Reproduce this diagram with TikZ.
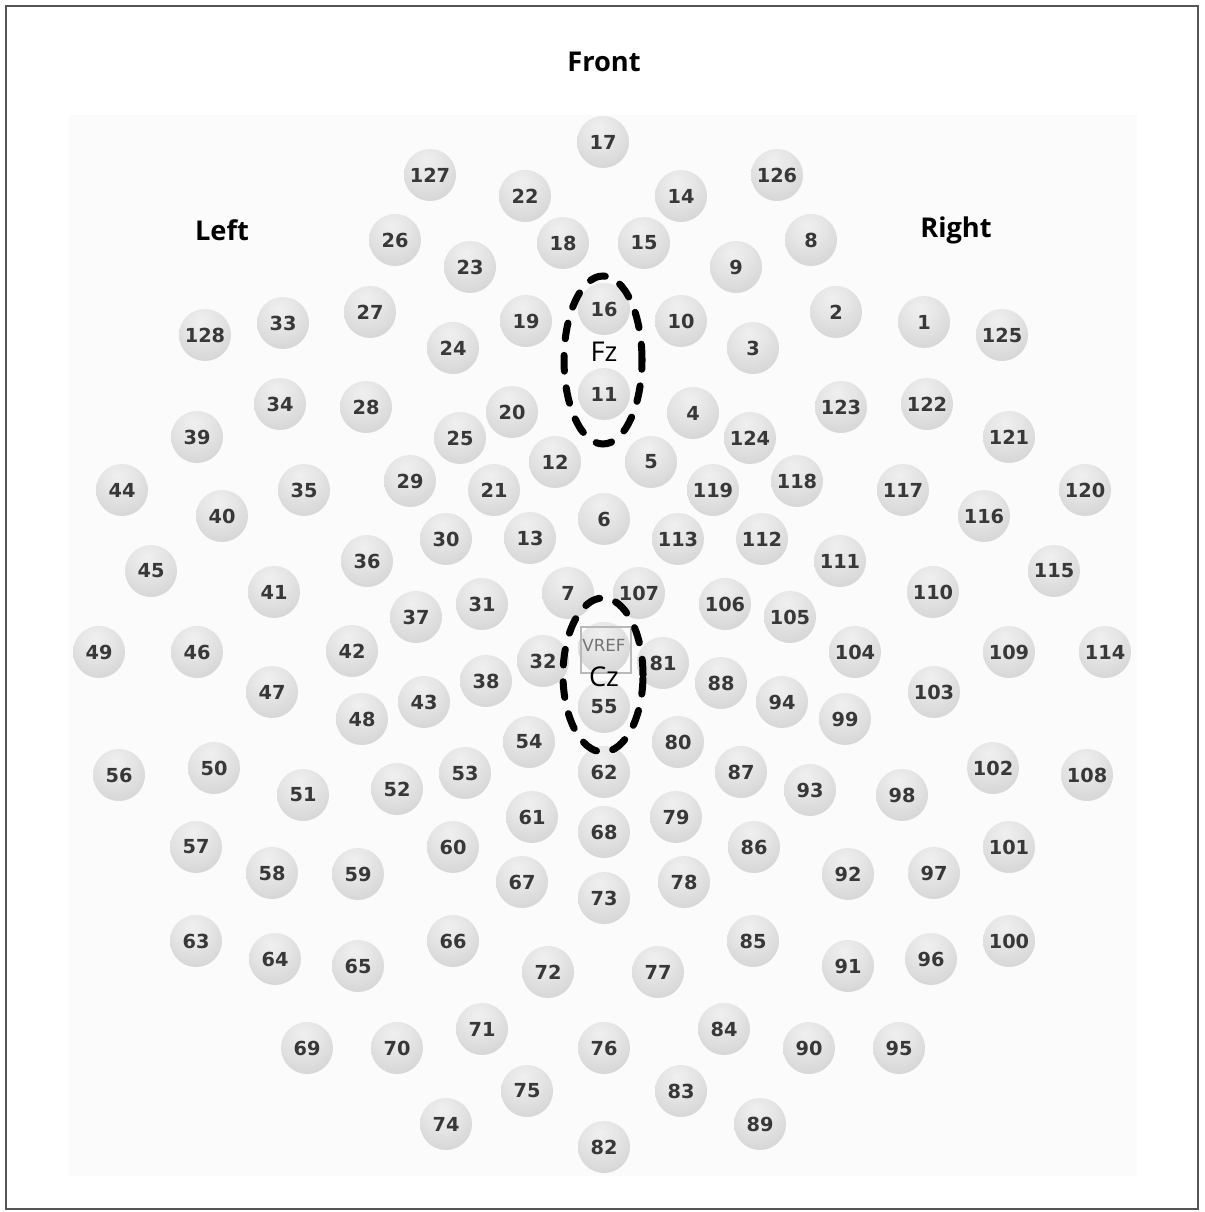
\documentclass[tikz,border=0pt]{standalone}
\usepackage{fontspec}
\setmainfont{Open Sans}
\newfontfamily\numfont{DejaVu Sans}

\definecolor{numgray}{HTML}{383838}
\definecolor{framegray}{HTML}{555555}

% 電極の球の陰影
\pgfdeclareradialshading{electrode}{\pgfpoint{-4bp}{14bp}}{%
  color(0bp)=(gray!12); color(16bp)=(gray!20); color(36bp)=(gray!33);
  color(58bp)=(gray!52); color(100bp)=(gray!58)}

\begin{document}
\begin{tikzpicture}[x=0.02cm, y=-0.02cm,
  elec/.style={circle, minimum size=1.04cm, inner sep=0pt, shading=electrode,
    text=numgray, font=\numfont\bfseries\fontsize{11}{11}\selectfont},
  headlbl/.style={font=\bfseries\fontsize{15.5}{16}\selectfont},
  sitelbl/.style={font=\fontsize{15.5}{16}\selectfont},
  ring/.style={line width=4pt, line cap=round, dash pattern=on 9pt off 9.5pt}]
  \useasboundingbox (0,0) rectangle (1204,1212);

  % 外枠と背景
  \draw[framegray, line width=1.1pt] (6,6) rectangle (1198,1209);
  \fill[gray!3] (69,115) rectangle (1137,1176);

  % 見出し
  \node[headlbl] (front) at (604,62) {Front};
  \node[headlbl] (left) at (222,230) {Left};
  \node[headlbl] (right) at (956,230) {Right};

  % 各電極 (番号/x/y)
  \foreach \n/\x/\y in {
    17/603/142, 127/430/175, 22/525/196, 14/681/196, 126/777/175,
    26/395/240, 18/563/243, 15/644/243, 8/811/240, 23/470/267, 9/736/267,
    16/604/309, 19/526/321, 10/681/321, 27/370/312, 2/836/312,
    33/283/323, 1/924/322, 128/205/335, 125/1002/335, 24/453/348, 3/753/348,
    11/604/394, 34/280/404, 28/366/407, 20/512/412, 4/693/413, 123/841/407,
    122/927/404, 39/197/437, 25/460/438, 124/750/438, 121/1009/437,
    12/555/462, 5/651/462, 44/122/490, 35/304/490, 29/410/481, 21/494/490,
    119/713/490, 118/797/481, 117/903/490, 120/1085/490, 40/222/516,
    116/984/516, 6/604/519, 30/446/539, 13/530/538, 113/678/539,
    112/762/539, 36/367/561, 111/840/561, 45/151/571, 115/1054/571,
    41/274/592, 110/933/592, 7/568/593, 107/639/593, 31/482/604,
    106/725/604, 37/416/617, 105/790/617, 49/99/652, 46/197/652,
    42/352/651, 32/543/661, 81/663/663, 104/855/652, 109/1009/652,
    114/1105/652, 47/272/692, 38/486/681, 88/721/683, 103/934/692,
    43/424/702, 94/782/702, 48/362/719, 99/845/719, 55/604/707,
    54/529/742, 80/678/742, 56/119/775, 50/214/768, 51/303/795,
    52/397/789, 53/465/773, 62/604/772, 87/741/772, 93/810/790,
    98/902/795, 102/993/768, 108/1087/775, 61/532/817, 79/676/817,
    68/604/832, 57/196/847, 60/453/847, 86/754/847, 101/1009/847,
    58/272/873, 59/358/874, 67/522/882, 78/684/882, 92/848/874,
    97/934/873, 73/604/898, 63/196/941, 66/453/941, 85/753/941,
    100/1009/941, 64/275/959, 65/358/966, 72/548/972, 77/658/972,
    91/848/966, 96/931/959, 71/482/1029, 84/724/1029, 69/307/1048,
    70/397/1048, 76/604/1048, 90/809/1048, 95/899/1048, 75/527/1091,
    83/681/1091, 74/446/1124, 89/760/1124, 82/604/1147} {
    \node[elec] (e\n) at (\x,\y) {\n};
  }

  % 基準電極 VREF
  \node[elec] (vref) at (604,648) {};
  \node[draw=gray!55, line width=0.6pt, minimum width=1cm, minimum height=0.92cm,
    inner sep=0pt] (vrefbox) at (606,650) {};
  \node[text=gray!90!black, font=\numfont\fontsize{9.5}{10}\selectfont,
    inner sep=0pt] (vreftxt) at (604,645) {VREF};

  % Fz と Cz の破線の楕円
  \node[sitelbl] (fz) at (604,352) {Fz};
  \node[sitelbl] (cz) at (604,677) {Cz};
  \draw[ring] (603,360) ellipse (0.78cm and 1.68cm);
  \draw[ring] (603,675) ellipse (0.80cm and 1.54cm);
\end{tikzpicture}
\end{document}
